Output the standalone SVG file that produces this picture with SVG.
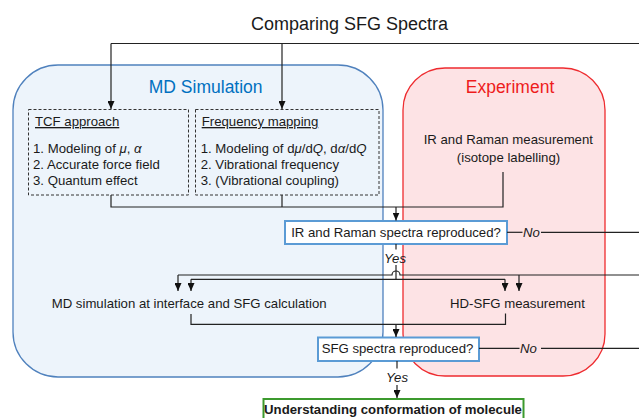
<svg xmlns="http://www.w3.org/2000/svg" width="639" height="418" viewBox="0 0 639 418">
<style>
text{font-family:"Liberation Sans",Arial,sans-serif;fill:#1a1a1a;font-size:13.2px}
.t{font-size:18px}
.h{font-size:17.5px}
.c{text-anchor:middle}
.i{font-style:italic}
.u{text-decoration:underline}
.b{font-weight:bold}
.ln{fill:none;stroke:#222;stroke-width:1.2}
.ar{fill:none;stroke:#222;stroke-width:1.2;marker-end:url(#ah)}
.dash{fill:none;stroke:#333;stroke-width:1;stroke-dasharray:3 2}
.q{fill:#fff;stroke:#5B9BD5;stroke-width:2}
</style>
<defs>
<marker id="ah" viewBox="0 0 8 7" refX="8" refY="3.5" markerWidth="8" markerHeight="7" markerUnits="userSpaceOnUse" orient="auto">
<path d="M0,0 L8,3.5 L0,7 z" fill="#111"/>
</marker>
</defs>
<rect width="639" height="418" fill="#fff"/>
<text class="t c" x="349.5" y="30">Comparing SFG Spectra</text>

<g id="md-simulation">
<rect x="13" y="65" width="370" height="312" rx="45" ry="45" fill="#EDF4FB" stroke="#4F81BD" stroke-width="1.3"/>
<text class="h c" x="205.7" y="93" style="fill:#0070C0">MD Simulation</text>
</g>
<g id="experiment">
<rect x="403" y="68" width="202" height="308" rx="42" ry="42" fill="#FDE3E5" stroke="#EE2B2F" stroke-width="1.3"/>
<text class="h c" x="510" y="93" style="fill:#EE1C1C">Experiment</text>
</g>
<g id="tcf">
<rect class="dash" x="28.5" y="109.5" width="160" height="85.5"/>
<text class="u" x="35" y="126">TCF approach</text>
<text x="33" y="152.5">1. Modeling of <tspan class="i">μ</tspan>, <tspan class="i">α</tspan></text>
<text x="33" y="168.5">2. Accurate force field</text>
<text x="33" y="184.5">3. Quantum effect</text>
</g>
<g id="freq">
<rect class="dash" x="195.5" y="109.5" width="183.5" height="85.5"/>
<text class="u" x="201.7" y="126">Frequency mapping</text>
<text x="200.7" y="152.5">1. Modeling of d<tspan class="i">μ</tspan>/d<tspan class="i">Q</tspan>, d<tspan class="i">α</tspan>/d<tspan class="i">Q</tspan></text>
<text x="200.7" y="168.5">2. Vibrational frequency</text>
<text x="200.7" y="184.5">3. (Vibrational coupling)</text>
</g>
<g id="ir-raman-measurement">
<text class="c" x="508.3" y="144.3">IR and Raman measurement</text>
<text class="c" x="508.5" y="161.7">(isotope labelling)</text>
</g>
<g id="ir-check">
<rect class="q" x="285" y="221" width="222" height="23"/>
<text class="c" x="396" y="237.3">IR and Raman spectra reproduced?</text>
</g>
<g id="md-interface">
<text x="51.7" y="307.7">MD simulation at interface and SFG calculation</text>
</g>
<g id="hd-sfg">
<text x="450" y="308.3">HD-SFG measurement</text>
</g>
<g id="sfg-check">
<rect class="q" x="318" y="337.5" width="161" height="23.5"/>
<text class="c" x="397.5" y="353.3">SFG spectra reproduced?</text>
</g>
<g id="result">
<rect x="263.5" y="399" width="260" height="25" fill="#fff" stroke="#3C9A2E" stroke-width="2"/>
<text class="b c" x="393" y="413.5">Understanding conformation of molecule</text>
</g>

<g id="connectors">
<path class="ln" d="M639,43.5 H111"/>
<path class="ar" d="M111,43.5 V109"/>
<path class="ar" d="M282,43.5 V109"/>
<path class="ln" d="M111,195 V207 H503 V172"/>
<path class="ln" d="M282,195 V207"/>
<path class="ar" d="M396,207 V220.5"/>
<path class="ln" d="M507,232.3 H522.5"/>
<text class="i" x="523" y="237">No</text>
<path class="ln" d="M541,232.3 H639"/>
<path class="ln" d="M396,244 V249.5"/>
<text class="i c" x="395" y="262.7">Yes</text>
<path class="ln" d="M396,265 V279.3"/>
<path class="ln" d="M639,275 H400 A4 4 0 0 0 392,275 H178"/>
<path class="ar" d="M178,275 V291"/>
<path class="ar" d="M519,275 V291"/>
<path class="ln" d="M191,279.3 H505"/>
<path class="ar" d="M191,279.3 V291"/>
<path class="ar" d="M505,279.3 V291"/>
<path class="ln" d="M191,314 V324.3 H505.5 V313.5"/>
<path class="ar" d="M396,324.3 V337"/>
<path class="ln" d="M479,348.3 H519.5"/>
<text class="i" x="520" y="353">No</text>
<path class="ln" d="M541,348.3 H639"/>
<path class="ln" d="M397,361 V368.5"/>
<text class="i c" x="397" y="381.7">Yes</text>
<path class="ar" d="M397,385 V398"/>
</g>
</svg>
